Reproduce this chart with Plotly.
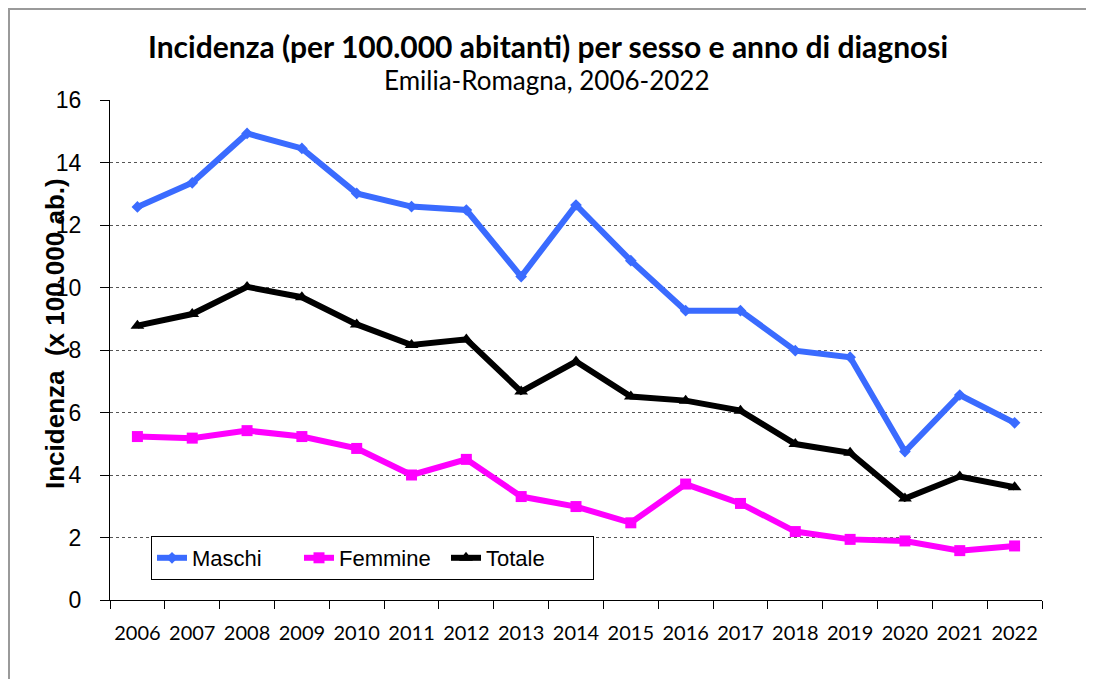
import plotly.graph_objects as go

# anni di diagnosi
anni = [str(a) for a in range(2006, 2023)]

# incidenza per 100.000 abitanti
maschi = [12.58, 13.35, 14.93, 14.45, 13.01, 12.59, 12.48, 10.35, 12.64,
          10.86, 9.26, 9.26, 7.98, 7.77, 4.75, 6.56, 5.67]
femmine = [5.23, 5.18, 5.42, 5.23, 4.85, 4.00, 4.50, 3.31, 2.99,
           2.47, 3.71, 3.09, 2.19, 1.94, 1.89, 1.58, 1.73]
totale = [8.78, 9.15, 10.02, 9.69, 8.82, 8.16, 8.34, 6.67, 7.63,
          6.51, 6.38, 6.06, 4.99, 4.71, 3.25, 3.95, 3.61]

y_ticks = [0, 2, 4, 6, 8, 10, 12, 14, 16]

# the page body adds an 8px margin, so work in screen pixels and shift
OFF = 8
W, H = 1094 - OFF, 679 - OFF
PL, PR, PT, PB = 110, 1042, 100, 600   # plot area in screen pixels
L, T = PL - OFF, PT - OFF
R, B = W - (PR - OFF), H - (PB - OFF)
pw, ph = PR - PL, PB - PT


def px_x(x):
    return (x - PL) / pw


def px_y(y):
    return (PB - y) / ph


series = [
    ("Maschi", maschi, "#3A6BFF", "diamond", 9),
    ("Femmine", femmine, "#FF00FF", "square", 11),
    ("Totale", totale, "#000000", "triangle-up", 12),
]

fig = go.Figure()
for name, vals, col, sym, size in series:
    fig.add_trace(go.Scatter(
        x=anni, y=vals, name=name, mode="lines+markers",
        line=dict(color=col, width=6),
        marker=dict(symbol=sym, size=size, color=col),
    ))

fig.update_layout(
    width=W, height=H,
    margin=dict(l=L, r=R, t=T, b=B),
    paper_bgcolor="white", plot_bgcolor="white",
    font=dict(family="Liberation Sans, Arial", color="black"),
    showlegend=True,
    legend=dict(
        orientation="h", x=px_x(151), y=px_y(536), xanchor="left", yanchor="top",
        bordercolor="black", borderwidth=1, bgcolor="white",
        font=dict(size=22, family="Liberation Sans, Arial"),
        tracegroupgap=0, entrywidth=102, entrywidthmode="pixels",
    ),
    xaxis=dict(
        type="category", range=[-0.5, 16.5],
        showline=True, linecolor="black", linewidth=1,
        ticks="outside", tickson="boundaries", ticklen=8, tickcolor="black",
        showgrid=False, zeroline=False, tickangle=0,
        tickfont=dict(size=20, family="Lato, Carlito, Calibri"),
        ticklabelstandoff=15,
    ),
    yaxis=dict(
        range=[0, 16], tickvals=y_ticks,
        showline=True, linecolor="black", linewidth=1,
        ticks="outside", ticklen=9, tickcolor="black",
        showgrid=True, gridcolor="#555555", griddash="dot", gridwidth=1,
        zeroline=False,
        tickfont=dict(size=23, family="Liberation Sans, Arial"),
        ticklabelstandoff=14,
    ),
    annotations=[
        dict(text="<b>Incidenza (per 100.000 abitanti) per sesso e anno di diagnosi</b>",
             xref="paper", yref="paper", x=px_x(548), y=px_y(46),
             xanchor="center", yanchor="middle", showarrow=False,
             font=dict(size=30, family="Lato, Carlito, Calibri")),
        dict(text="Emilia-Romagna, 2006-2022",
             xref="paper", yref="paper", x=px_x(547), y=px_y(80),
             xanchor="center", yanchor="middle", showarrow=False,
             font=dict(size=26, family="Lato, Carlito, Calibri")),
        dict(text="<b>Incidenza  (x 100.000 ab.)</b>",
             xref="paper", yref="paper", x=px_x(55), y=px_y(334),
             xanchor="center", yanchor="middle", showarrow=False, textangle=-90,
             font=dict(size=26, family="Liberation Sans, Arial")),
    ],
    shapes=[
        dict(type="rect", xref="paper", yref="paper",
             x0=px_x(9), x1=px_x(1091), y0=px_y(700), y1=px_y(9),
             line=dict(color="#9a9a9a", width=2), layer="below"),
    ],
)

fig.write_html("out.html")
